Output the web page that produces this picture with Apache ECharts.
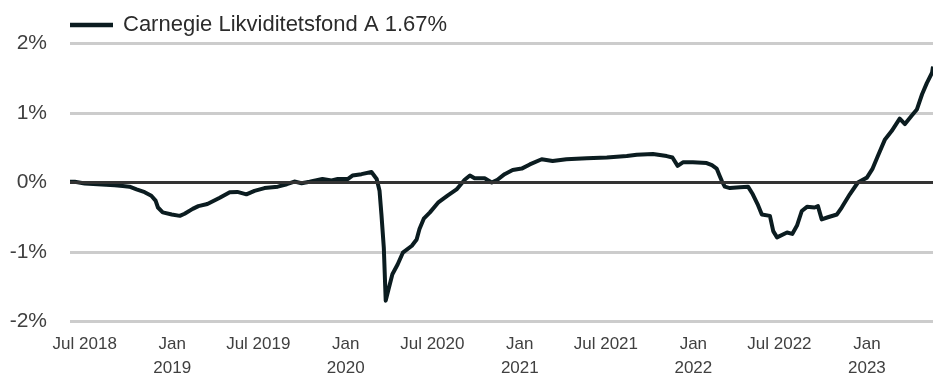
<!DOCTYPE html>
<html>
<head>
<meta charset="utf-8">
<script src="https://cdn.jsdelivr.net/npm/echarts@6/dist/echarts.min.js"></script>
<style>
  html, body { margin: 0; padding: 0; background: #ffffff; }
  #chart { width: 933px; height: 374px; }
</style>
</head>
<body>
<div id="chart"></div>
<script>
// Fund performance, % change since start
const seriesName = 'Carnegie Likviditetsfond A 1.67%';

const dates = [
  '2018-05-31','2018-06-10','2018-07-01','2018-07-28','2018-09-02','2018-09-19','2018-10-03','2018-10-18',
  '2018-11-04','2018-11-18','2018-11-27','2018-12-02','2018-12-12','2018-12-31','2019-01-17','2019-01-27',
  '2019-02-13','2019-02-25','2019-03-16','2019-04-11','2019-05-02','2019-05-18','2019-06-06','2019-06-23',
  '2019-07-14','2019-08-11','2019-08-30','2019-09-15','2019-09-30','2019-10-17','2019-11-13','2019-12-02',
  '2019-12-15','2020-01-05','2020-01-15','2020-02-03','2020-02-24','2020-03-06','2020-03-12','2020-03-16',
  '2020-03-21','2020-03-25','2020-03-30','2020-04-08','2020-04-19','2020-04-30','2020-05-19','2020-05-29',
  '2020-06-04','2020-06-13','2020-06-26','2020-07-13','2020-08-02','2020-08-21','2020-09-07','2020-09-18',
  '2020-09-28','2020-10-19','2020-11-03','2020-11-15','2020-11-30','2020-12-17','2021-01-05','2021-01-22',
  '2021-02-16','2021-03-11','2021-04-09','2021-05-22','2021-07-03','2021-08-14','2021-09-04','2021-10-08',
  '2021-11-06','2021-11-18','2021-11-29','2021-12-10','2021-12-31','2022-01-29','2022-02-09','2022-02-19',
  '2022-02-25','2022-03-02','2022-03-08','2022-03-19','2022-04-09','2022-04-26','2022-05-06','2022-05-16',
  '2022-05-25','2022-06-11','2022-06-18','2022-06-26','2022-07-17','2022-07-28','2022-08-07','2022-08-17',
  '2022-08-28','2022-09-13','2022-09-20','2022-09-28','2022-10-11','2022-10-30','2022-11-09','2022-11-26',
  '2022-12-13','2023-01-01','2023-01-13','2023-01-24','2023-02-08','2023-02-22','2023-03-11','2023-03-22',
  '2023-04-05','2023-04-16','2023-04-27','2023-05-07','2023-05-18','2023-05-20'
];

const values = [
  0.01, 0.01, -0.015, -0.025, -0.04, -0.05, -0.06, -0.10,
  -0.14, -0.19, -0.26, -0.36, -0.43, -0.46, -0.48, -0.45,
  -0.38, -0.34, -0.31, -0.22, -0.14, -0.135, -0.17, -0.12,
  -0.08, -0.06, -0.025, 0.014, -0.01, 0.01, 0.05, 0.03,
  0.05, 0.05, 0.10, 0.12, 0.15, 0.05, -0.12, -0.46,
  -0.94, -1.70, -1.56, -1.32, -1.18, -1.01, -0.91, -0.82,
  -0.67, -0.52, -0.43, -0.29, -0.19, -0.10, 0.04, 0.10,
  0.06, 0.06, 0.00, 0.04, 0.12, 0.18, 0.20, 0.26,
  0.335, 0.31, 0.335, 0.35, 0.36, 0.38, 0.40, 0.41,
  0.38, 0.36, 0.24, 0.29, 0.29, 0.28, 0.25, 0.20,
  0.10, 0.02, -0.06, -0.08, -0.07, -0.06, -0.17, -0.31,
  -0.46, -0.48, -0.70, -0.79, -0.72, -0.74, -0.62, -0.41,
  -0.35, -0.36, -0.34, -0.53, -0.50, -0.46, -0.36, -0.17,
  0.00, 0.07, 0.20, 0.38, 0.62, 0.74, 0.92, 0.84,
  0.96, 1.05, 1.27, 1.43, 1.58, 1.67
];

const tickDates = [
  '2018-07-01','2019-01-01','2019-07-01','2020-01-01','2020-07-01',
  '2021-01-01','2021-07-01','2022-01-01','2022-07-01','2023-01-01'
];
const tickLabels = [
  'Jul 2018','Jan\n2019','Jul 2019','Jan\n2020','Jul 2020',
  'Jan\n2021','Jul 2021','Jan\n2022','Jul 2022','Jan\n2023'
];

const yTicks = [-2, -1, 0, 1, 2];

// dates become day numbers (UTC) so a plain value axis can place them
function toDay(s) {
  const p = s.split('-').map(Number);
  return Date.UTC(p[0], p[1] - 1, p[2]) / 86400000;
}
const tickDays = tickDates.map(toDay);

const chart = echarts.init(document.getElementById('chart'), null, { renderer: 'canvas' });

const FONT = 'Liberation Sans, Arial, sans-serif';

chart.setOption({
  animation: false,
  backgroundColor: '#ffffff',
  textStyle: { fontFamily: FONT },
  legend: {
    left: 70,
    top: 14,
    padding: 0,
    itemWidth: 43,
    itemHeight: 14,
    textStyle: { fontSize: 22, color: '#2b2b2b', fontFamily: FONT, padding: [0, 0, 0, 5] },
    data: [{ name: seriesName, icon: 'path://M0,5 L43,5 L43,9.5 L0,9.5 Z' }]
  },
  grid: { left: 70, right: 0, top: 43.5, bottom: 52.5, containLabel: false, outerBoundsMode: 'none' },
  xAxis: {
    type: 'value',
    min: toDay(dates[0]),
    max: toDay(dates[dates.length - 1]),
    axisLine: { show: false },
    axisTick: { show: false },
    splitLine: { show: false },
    axisLabel: {
      customValues: tickDays,
      margin: 11,
      fontSize: 17,
      lineHeight: 24,
      color: '#404040',
      verticalAlign: 'top',
      fontFamily: FONT,
      formatter: function (v) {
        const i = tickDays.indexOf(v);
        return i >= 0 ? tickLabels[i] : '';
      }
    }
  },
  yAxis: {
    type: 'value',
    min: yTicks[0],
    max: yTicks[yTicks.length - 1],
    interval: 1,
    axisLine: { show: false },
    axisTick: { show: false },
    axisLabel: {
      margin: 23,
      fontSize: 21,
      color: '#404040',
      fontFamily: FONT,
      formatter: '{value}%'
    },
    splitLine: { lineStyle: { color: '#cccccc', width: 3 } }
  },
  series: [{
    name: seriesName,
    type: 'line',
    symbol: 'none',
    clip: true,
    lineStyle: { color: '#0b1c20', width: 4, join: 'round' },
    itemStyle: { color: '#0b1c20' },
    data: dates.map((d, i) => [toDay(d), values[i]]),
    markLine: {
      silent: true,
      symbol: 'none',
      label: { show: false },
      lineStyle: { color: '#333333', width: 3, type: 'solid' },
      data: [{ yAxis: 0 }]
    },
    z: 3
  }]
});
</script>
</body>
</html>
